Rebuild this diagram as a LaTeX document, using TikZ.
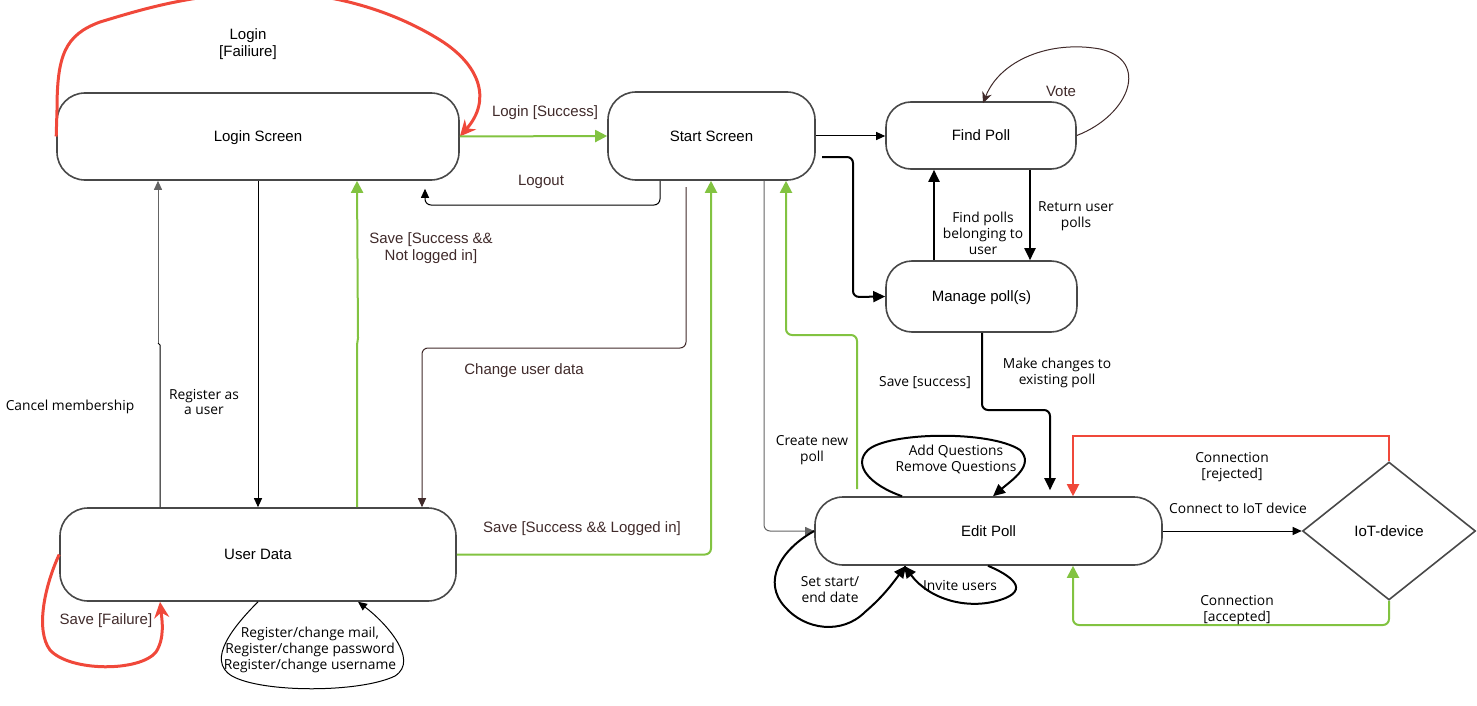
\documentclass[tikz,border=0pt]{standalone}
\usepackage{fontspec}
\setmainfont{Liberation Sans}
\newfontfamily\osans{Open Sans}
\usetikzlibrary{arrows.meta,shapes.geometric,calc}

\definecolor{okgreen}{RGB}{130,195,65}
\definecolor{failred}{RGB}{240,72,58}
\definecolor{labelbrown}{RGB}{64,42,42}
\definecolor{boxline}{RGB}{72,72,72}
\definecolor{wiregray}{RGB}{100,100,100}

\begin{document}
\begin{tikzpicture}[x=1pt,y=-1pt,
  state/.style={draw=boxline, line width=1.6pt, rounded corners=28pt, inner sep=0pt,
    text depth=0pt, font=\fontsize{15}{18}\selectfont},
  thinarrow/.style={line width=1pt, -{Triangle[length=9pt,width=8pt]}},
  thickarrow/.style={line width=2pt, -{Triangle[length=12pt,width=11pt]}},
  greenarrow/.style={okgreen, line width=2pt, -{Triangle[length=12pt,width=12pt]}},
  redloop/.style={failred, line width=3pt, -{Stealth[length=16pt,width=15pt]}},
  redwire/.style={failred, line width=2pt, -{Triangle[length=12pt,width=12pt]}},
  bendy/.style={rounded corners=6pt},
  alabel/.style={font=\fontsize{15}{16.5}\selectfont, text=labelbrown, align=center, inner sep=0pt, yshift=-2pt},
  blabel/.style={font=\fontsize{15}{16.5}\selectfont, align=center, inner sep=0pt, yshift=-2pt},
  olabel/.style={font=\osans\fontsize{13.8}{16}\selectfont, align=center, inner sep=0pt, yshift=-2pt}
]
\useasboundingbox (0,0) rectangle (1477,706);
\clip (0,0) rectangle (1477,706);

% ---------- states ----------
\node[state, minimum width=402pt, minimum height=87pt] (login) at (258,136.5) {Login Screen};
\node[state, minimum width=207pt, minimum height=88pt] (start) at (711.5,136) {Start Screen};
\node[state, minimum width=190pt, minimum height=67pt, rounded corners=25pt] (find) at (981,135.5) {Find Poll};
\node[state, minimum width=191pt, minimum height=71pt, rounded corners=26pt] (manage) at (981.5,296.5) {Manage poll(s)};
\node[state, minimum width=396pt, minimum height=93pt] (user) at (258,554.5) {User Data};
\node[state, minimum width=347pt, minimum height=68pt] (edit) at (988.5,531) {Edit Poll};
\node[draw=boxline, line width=1.6pt, diamond, aspect=1.25, minimum width=173pt,
  minimum height=138pt, inner sep=0pt, text depth=0pt, font=\fontsize{15}{18}\selectfont] (iot) at (1389,531) {IoT-device};

% ---------- login / start ----------
\draw[redloop] (login.west) -- (57,110)
  .. controls (57,55) and (65,35) .. (100,22)
  .. controls (140,10) and (190,-6) .. (265,-8)
  .. controls (340,-8) and (400,15) .. (440,40)
  .. controls (480,65) and (492,100) .. (login.east);
\node[blabel] (lfail) at (248,42) {Login\\{[Failiure]}};

\draw[greenarrow] (login.east) -- (start.west);
\node[alabel] (lsucc) at (545,111) {Login [Success]};

\draw[thinarrow, bendy, shorten >=8pt] (start.south -| 660,0) -- (660,205) -- (425,205) -- (login.south -| 425,0);
\node[alabel] (lout) at (541,180) {Logout};

% ---------- login / user data ----------
\coordinate (cmjog) at (158,343);
\draw[line width=1pt] (user.north -| 160,0) -- (160,345) -- (cmjog);
\draw[thinarrow, wiregray] (cmjog) -- (login.south -| 158,0);
\node[olabel] (lcancel) at (70,405) {Cancel membership};

\draw[thinarrow] (login.south -| 258,0) -- (user.north -| 258,0);
\node[olabel] (lreg) at (204,400) {Register as\\a user};

\draw[greenarrow] (user.north -| 357,0) -- (357,345) -- (358,338) -- (login.south -| 357,0);
\node[alabel] (lsavenl) at (431,246) {Save [Success \&\&\\Not logged in]};

\coordinate (cudfrom) at (686,187);
\draw[thinarrow, labelbrown, bendy] (cudfrom) -- (686,348) -- (422,348) -- (user.north -| 422,0);
\node[alabel] (lchange) at (524,369) {Change user data};

\draw[greenarrow, bendy] (user.east) -| (start.south -| 711,0);
\node[alabel] (lsavel) at (582,527) {Save [Success \&\& Logged in]};

\draw[redloop] (user.west)
  .. controls (45,585) and (35,630) .. (50,650)
  .. controls (70,672) and (140,672) .. (156,652)
  .. controls (165,638) and (162,620) .. (user.south -| 160,0);
\node[alabel] (lsavef) at (106,619) {Save [Failure]};

\draw[thinarrow] (user.south -| 258,0)
  .. controls (235,625) and (205,660) .. (232,676)
  .. controls (262,693) and (360,693) .. (395,676)
  .. controls (420,660) and (385,622) .. (user.south -| 358,0);
\node[olabel] (lregch) at (310,648) {Register/change mail,\\Register/change password\\Register/change username};

% ---------- start / polls ----------
\draw[thinarrow] (start.east) -- (start.east -| find.west);

\coordinate (smfrom) at (822,157);
\draw[thickarrow, bendy] (smfrom) -- (853,157) -- (853,297) -- (manage.west);

\draw[thickarrow] (manage.north -| 934,0) -- (find.south -| 934,0);
\node[olabel] (lfindp) at (983,231) {Find polls\\belonging to\\user};

\draw[thickarrow] (find.south -| 1030,0) -- (manage.north -| 1030,0);
\node[olabel] (lret) at (1076,214) {Return user\\polls};

\draw[labelbrown, line width=1pt, -{Stealth[length=11pt,width=10pt]}] (find.east)
  .. controls (1130,115) and (1150,60) .. (1100,49)
  .. controls (1050,40) and (1000,60) .. ([yshift=-2pt]find.north -| 983,0);
\node[alabel] (lvote) at (1061,89) {Vote};

\draw[thickarrow, bendy, shorten >=6pt] (manage.south -| 982,0) -- (982,410) -- (1050,410) -- (edit.north -| 1050,0);
\node[olabel] (lmake) at (1057,371) {Make changes to\\existing poll};

\draw[thinarrow, wiregray, bendy] (start.south -| 764,0) |- (edit.west);
\node[olabel] (lcreate) at (812,448) {Create new\\poll};

\coordinate (ssfrom) at (857,489);
\draw[greenarrow, bendy] (ssfrom) -- (857,335) -- (786,335) -- (start.south -| 786,0);
\node[olabel] (lsaves) at (925,381) {Save [success]};

% ---------- edit poll self loops ----------
\draw[thickarrow] (edit.north -| 902,0)
  .. controls (870,485) and (852,465) .. (868,450)
  .. controls (888,432) and (990,430) .. (1020,450)
  .. controls (1035,465) and (1012,480) .. (edit.north -| 993,0);
\node[olabel] (laddq) at (956,457) {Add Questions\\Remove Questions};

\draw[thickarrow] (edit.west)
  .. controls (780,550) and (762,582) .. (785,607)
  .. controls (805,630) and (842,635) .. (865,612)
  .. controls (885,595) and (895,580) .. (edit.south -| 906,0);
\node[olabel] (ldate) at (830,588) {Set start/\\end date};

\draw[thickarrow] (edit.south -| 988,0)
  .. controls (1010,575) and (1032,590) .. (1000,600)
  .. controls (968,610) and (930,600) .. (edit.south -| 904,0);
\node[olabel] (linvite) at (960,583) {Invite users};

% ---------- IoT device ----------
\draw[thinarrow] (edit.east) -- (iot.west);
\node[olabel] (lconn) at (1238,506) {Connect to IoT device};

\draw[redwire] (iot.north) |- (1073,436) -- (edit.north -| 1073,0);
\node[olabel] (lrej) at (1232,465) {Connection\\{[rejected]}};

\draw[greenarrow, bendy] (iot.south) |- (1073,625) -- (edit.south -| 1073,0);
\node[olabel] (lacc) at (1237,608) {Connection\\{[accepted]}};
\end{tikzpicture}
\end{document}
